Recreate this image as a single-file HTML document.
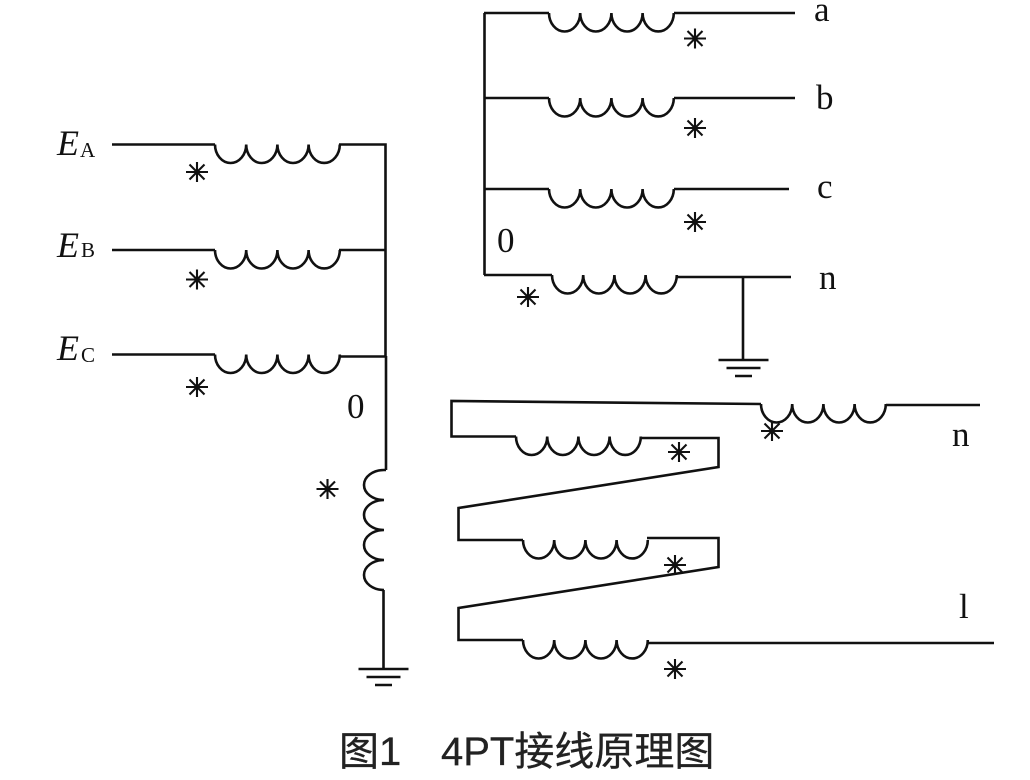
<!DOCTYPE html>
<html>
<head>
<meta charset="utf-8">
<style>
html,body{margin:0;padding:0;background:#fff;width:1030px;height:780px;overflow:hidden}
svg{display:block}
.w{fill:none;stroke:#111;stroke-width:2.6}
.s{font-family:"Liberation Serif","Noto Serif CJK SC",serif;fill:#111}
.t{font-family:"Liberation Sans","Noto Sans CJK SC",sans-serif;fill:#222;font-size:40px;stroke:#222;stroke-width:.3}
</style>
</head>
<body>
<svg width="1030" height="780" viewBox="0 0 1030 780" xmlns="http://www.w3.org/2000/svg">
<defs>
<path id="c" class="w" d="M0 0a15.6 18.5 0 0 0 31.2 0a15.6 18.5 0 0 0 31.2 0a15.6 18.5 0 0 0 31.2 0a15.6 18.5 0 0 0 31.2 0"/>
<g id="st" stroke="#111" stroke-width="2.1" fill="none"><path d="M-11 0H11M0 -10V10M-7.500 -7.500L7.500 7.500M-7.500 7.500L7.500 -7.500"/></g>
<g id="g" stroke="#111" stroke-width="2.6" fill="none"><path d="M-25 0H25M-17 8H17M-8.500 16H8.500"/></g>
</defs>

<!-- left group -->
<path class="w" d="M112 144.500H215M339 144.500H385.500V356M112 250H215M339 250H385.500M112 354.500H215M339 356.500H385.500M386 356V470"/>
<use href="#c" x="215" y="144.500"/>
<use href="#c" x="215" y="250"/>
<use href="#c" x="215" y="354.500"/>
<path class="w" d="M386 470H384a20 15 0 0 0 0 30a20 15 0 0 0 0 30a20 15 0 0 0 0 30a20 15 0 0 0 0 30M383.500 590V669"/>
<use href="#g" x="383.500" y="669"/>

<!-- top right group -->
<path class="w" d="M484.500 13V275M484 13H549M674 13H795M484 98H549M674 98H795M484 189H549M674 189H789M484 275H552M677 277H791M743 277V360"/>
<use href="#c" x="549" y="13"/>
<use href="#c" x="549" y="98"/>
<use href="#c" x="549" y="189"/>
<use href="#c" x="552" y="275"/>
<use href="#g" x="743.500" y="360"/>

<!-- bottom right group -->
<path class="w" d="M886 405H980M761 404L451.500 401V436.500H516M641 438H718.500V467L458.500 508V540H523M647 538H718.500V567L458.500 608V640H523M647 643H994"/>
<use href="#c" x="761" y="404"/>
<use href="#c" x="516" y="436.500"/>
<use href="#c" x="523" y="540"/>
<use href="#c" x="523" y="640"/>

<!-- stars -->
<use href="#st" x="197" y="172"/>
<use href="#st" x="197" y="279.500"/>
<use href="#st" x="197" y="387"/>
<use href="#st" x="327.500" y="489"/>
<use href="#st" x="695" y="38.500"/>
<use href="#st" x="695" y="128"/>
<use href="#st" x="695" y="222"/>
<use href="#st" x="528" y="297"/>
<use href="#st" x="679" y="452"/>
<use href="#st" x="675" y="565"/>
<use href="#st" x="675" y="669"/>
<use href="#st" x="772" y="431"/>

<!-- labels -->
<text class="s" x="57" y="155" font-size="36" font-style="italic">E</text>
<text class="s" x="80" y="157" font-size="21">A</text>
<text class="s" x="57" y="257" font-size="36" font-style="italic">E</text>
<text class="s" x="81" y="257" font-size="21">B</text>
<text class="s" x="57" y="360" font-size="36" font-style="italic">E</text>
<text class="s" x="81" y="362" font-size="21">C</text>
<text class="s" x="347" y="418" font-size="35">0</text>
<text class="s" x="497" y="252" font-size="35">0</text>
<text class="s" x="814" y="21" font-size="35">a</text>
<text class="s" x="816" y="109" font-size="35">b</text>
<text class="s" x="817" y="198" font-size="35">c</text>
<text class="s" x="819" y="289" font-size="35">n</text>
<text class="s" x="952" y="446" font-size="35">n</text>
<text class="s" x="959" y="618" font-size="35">l</text>

<!-- title -->
<text class="t" x="339" y="765">图1</text>
<text class="t" x="441" y="765">4PT接线原理图</text>
</svg>
</body>
</html>
